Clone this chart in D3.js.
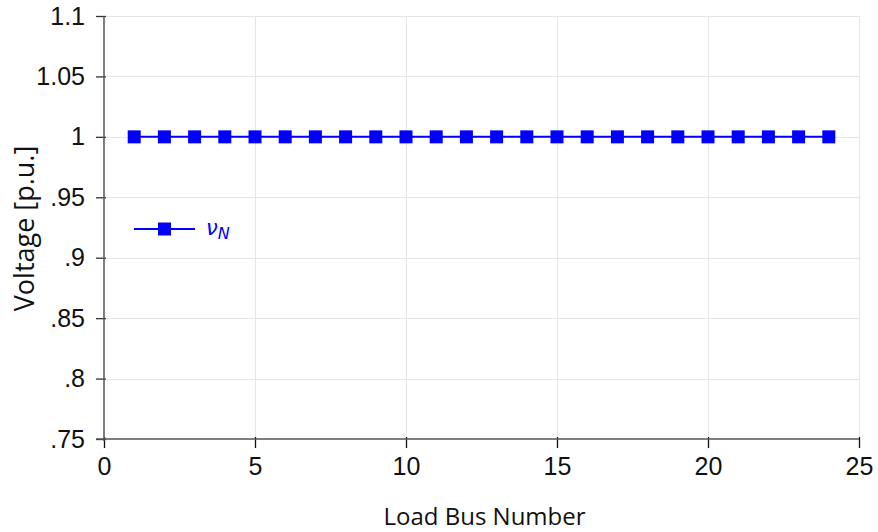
<!DOCTYPE html>
<html>
<head>
<meta charset="utf-8">
<script src="https://cdn.jsdelivr.net/npm/d3@7"></script>
<style>
  html, body { margin: 0; padding: 0; background: #fff; }
  svg { display: block; }
</style>
</head>
<body>
<svg id="chart" width="878" height="532"></svg>
<script>
// Load bus numbers and per-unit voltages
const busNumbers = [1, 2, 3, 4, 5, 6, 7, 8, 9, 10, 11, 12, 13, 14, 15, 16, 17, 18, 19, 20, 21, 22, 23, 24];
const voltages = [1, 1, 1, 1, 1, 1, 1, 1, 1, 1, 1, 1, 1, 1, 1, 1, 1, 1, 1, 1, 1, 1, 1, 1];
const xTicks = [0, 5, 10, 15, 20, 25];
const yTicks = [0.75, 0.8, 0.85, 0.9, 0.95, 1, 1.05, 1.1];
const yTickLabels = [".75", ".8", ".85", ".9", ".95", "1", "1.05", "1.1"];
const seriesName = "N";

const svg = d3.select("#chart");
const margin = { left: 104, right: 19, top: 16, bottom: 93 };
const W = 878, H = 532;

const x = d3.scaleLinear().domain([0, 25]).range([margin.left, W - margin.right]);
const y = d3.scaleLinear().domain([0.75, 1.1]).range([H - margin.bottom, margin.top]);

const blue = "#0000ff";
const grid = "#e6e6e6";

// grid
svg.append("g").selectAll("line.gy").data(yTicks.slice(1)).join("line")
  .attr("x1", x(0)).attr("x2", x(25))
  .attr("y1", d => Math.round(y(d)) + 0.5).attr("y2", d => Math.round(y(d)) + 0.5)
  .attr("stroke", grid).attr("stroke-width", 1);
svg.append("g").selectAll("line.gx").data(xTicks.slice(1)).join("line")
  .attr("x1", d => Math.round(x(d)) + 0.5).attr("x2", d => Math.round(x(d)) + 0.5)
  .attr("y1", y(0.75)).attr("y2", y(1.1))
  .attr("stroke", grid).attr("stroke-width", 1);

// axes
const yAxis = d3.axisLeft(y).tickValues(yTicks)
  .tickFormat((d, i) => yTickLabels[i]).tickSize(8).tickPadding(11);
const gy = svg.append("g").attr("transform", `translate(${margin.left},0)`).call(yAxis);
gy.select(".domain").remove();
gy.selectAll(".tick line").attr("stroke", "#333").attr("stroke-width", 1.3).attr("x2", -8).attr("x1", 2);
gy.selectAll(".tick text").attr("font-family", "Liberation Sans, Arial, sans-serif")
  .attr("font-size", 25).attr("fill", "#111");

const xAxis = d3.axisBottom(x).tickValues(xTicks).tickSize(9).tickPadding(9);
const gx = svg.append("g").attr("transform", `translate(0,${y(0.75)})`).call(xAxis);
gx.select(".domain").remove();
gx.selectAll(".tick line").attr("stroke", "#111").attr("stroke-width", 1.3).attr("y1", -2);
gx.selectAll(".tick text").attr("font-family", "Liberation Sans, Arial, sans-serif")
  .attr("font-size", 25).attr("fill", "#111");

// axis lines
svg.append("line").attr("x1", x(0)).attr("x2", x(0)).attr("y1", y(1.1)).attr("y2", y(0.75) + 2)
  .attr("stroke", "#555").attr("stroke-width", 1.5);
svg.append("line").attr("x1", x(0) - 8).attr("x2", x(25)).attr("y1", y(0.75)).attr("y2", y(0.75))
  .attr("stroke", "#555").attr("stroke-width", 1.5);

// axis titles
svg.append("text").attr("x", (x(0) + x(25)) / 2 + 3).attr("y", 525)
  .attr("text-anchor", "middle").attr("font-family", "Open Sans, sans-serif")
  .attr("font-size", 24).attr("fill", "#111").text("Load Bus Number");
svg.append("text")
  .attr("transform", `translate(34,${(y(0.75) + y(1.1)) / 2 + 1}) rotate(-90)`)
  .attr("text-anchor", "middle").attr("font-family", "Open Sans, sans-serif")
  .attr("font-size", 27).attr("fill", "#111").text("Voltage [p.u.]");

// series
const line = d3.line().x((d, i) => x(busNumbers[i])).y(d => y(d));
svg.append("path").datum(voltages).attr("d", line)
  .attr("fill", "none").attr("stroke", blue).attr("stroke-width", 2);
const ms = 13;
svg.append("g").selectAll("rect").data(voltages).join("rect")
  .attr("x", (d, i) => x(busNumbers[i]) - ms / 2).attr("y", d => y(d) - ms / 2)
  .attr("width", ms).attr("height", ms).attr("fill", blue);

// legend
const lg = svg.append("g").attr("transform", "translate(134,229)");
lg.append("line").attr("x1", 0).attr("x2", 61).attr("y1", 0).attr("y2", 0)
  .attr("stroke", blue).attr("stroke-width", 2);
lg.append("rect").attr("x", 30.5 - ms / 2).attr("y", -ms / 2).attr("width", ms).attr("height", ms).attr("fill", blue);
const lt = lg.append("text").attr("x", 72).attr("y", 6)
  .attr("font-family", "DejaVu Sans, sans-serif").attr("font-style", "italic")
  .attr("font-size", 21).attr("fill", blue);
lt.append("tspan").text("\u03BD");
lt.append("tspan").attr("font-size", 16).attr("dy", 4).text(seriesName);
</script>
</body>
</html>
